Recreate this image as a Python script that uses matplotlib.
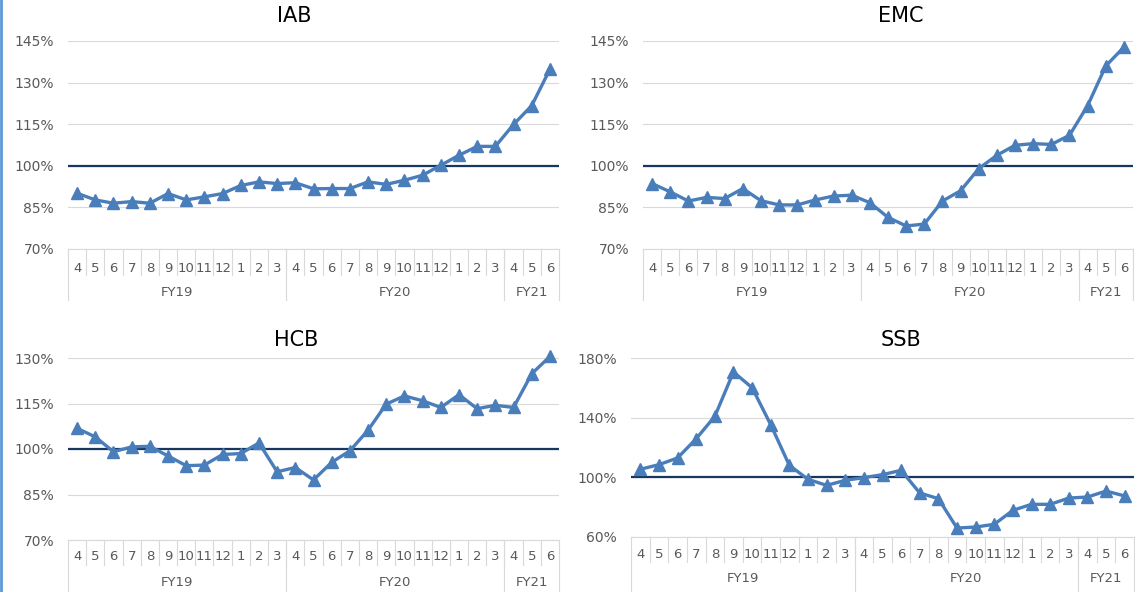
import numpy as np
import matplotlib.pyplot as plt
from matplotlib.lines import Line2D

plt.rcParams['font.family'] = ['DejaVu Sans']

months = [4, 5, 6, 7, 8, 9, 10, 11, 12, 1, 2, 3,
          4, 5, 6, 7, 8, 9, 10, 11, 12, 1, 2, 3,
          4, 5, 6]
fy_labels = ["FY19", "FY20", "FY21"]
fy_sizes = [12, 12, 3]

iab = [90.1, 87.7, 86.5, 87.1, 86.5, 90.0, 87.7, 88.8, 90.0, 92.9, 94.2, 93.6,
       93.9, 91.7, 91.8, 91.8, 94.2, 93.3, 94.8, 96.6, 100.2, 103.8, 107.0, 107.0,
       114.9, 121.7, 134.8]
emc = [93.6, 90.6, 87.3, 88.6, 88.2, 91.8, 87.4, 85.9, 85.9, 87.7, 89.1, 89.4,
       86.7, 81.4, 78.3, 79.0, 87.3, 91.0, 99.0, 103.8, 107.4, 108.0, 107.7, 111.0,
       121.7, 136.0, 142.8]
hcb = [106.8, 104.0, 99.1, 100.7, 100.9, 97.7, 94.5, 94.7, 98.2, 98.5, 102.0, 92.5,
       93.9, 89.8, 95.6, 99.4, 106.2, 114.8, 117.5, 115.9, 113.7, 117.9, 113.3, 114.4,
       113.7, 124.8, 130.5]
ssb = [105.4, 108.5, 113.0, 125.9, 140.9, 170.6, 160.1, 135.3, 108.0, 98.7, 94.6, 98.0,
       99.8, 101.8, 104.7, 89.5, 85.7, 66.0, 66.7, 68.5, 77.9, 81.9, 81.9, 86.1,
       86.8, 90.8, 87.5]

W, H = 1135, 592
BLUE = '#4a7ebb'
NAVY = '#17375e'
GRID = '#d9d9d9'
TXT = '#595959'

fig = plt.figure(figsize=(W / 100, H / 100), dpi=100)
fig.add_artist(Line2D([0.001, 0.001], [0, 1], color='#5b9bd5', lw=2))


def panel(box, values, ticks, title, title_x, title_y, row_px, full_px, lab_px, fy_px):
    left, top, right, bottom = box
    h_px = bottom - top
    ax = fig.add_axes([left / W, 1 - bottom / H, (right - left) / W, h_px / H])
    n = len(values)
    x = np.arange(n)

    ax.set_xlim(-0.5, n - 0.5)
    ax.set_ylim(ticks[0], ticks[-1])
    ax.set_yticks(ticks)
    ax.set_yticklabels([f"{t}%" for t in ticks])
    ax.tick_params(axis='y', length=0, pad=10, labelsize=10, labelcolor=TXT)
    ax.grid(axis='y', color=GRID, lw=0.8)
    ax.set_axisbelow(True)
    for s in ax.spines.values():
        s.set_visible(False)

    ax.axhline(100, color=NAVY, lw=1.6, zorder=2)
    ax.plot(x, values, color=BLUE, lw=2.4, marker='^', ms=9, clip_on=False, zorder=3)

    # two-level category axis
    tr = ax.get_xaxis_transform()
    ax.plot([-0.5, n - 0.5], [0, 0], transform=tr, color=GRID, lw=0.8, clip_on=False)
    bounds = list(np.cumsum([0] + fy_sizes) - 0.5)
    for i in range(1, n):
        ax.plot([i - 0.5, i - 0.5], [0, -row_px / h_px], transform=tr,
                color=GRID, lw=0.8, clip_on=False)
    for b in bounds:
        ax.plot([b, b], [0, -full_px / h_px], transform=tr,
                color=GRID, lw=0.8, clip_on=False)
    ax.set_xticks(x)
    ax.set_xticklabels([str(m) for m in months])
    ax.tick_params(axis='x', length=0, pad=lab_px * 0.72, labelsize=9.5, labelcolor=TXT)
    for lab in ax.get_xticklabels():
        lab.set_va('center')
    start = 0
    for name, size in zip(fy_labels, fy_sizes):
        ax.text(start + size / 2 - 0.5, -fy_px / h_px, name, transform=tr,
                ha='center', va='center', fontsize=9.5, color=TXT)
        start += size

    fig.text(title_x / W, 1 - title_y / H, title, ha='center', va='center',
             fontsize=15, color='black')
    return ax


panel((68, 41, 559, 249), iab, [70, 85, 100, 115, 130, 145], "IAB", 294, 16, 26, 51, 19, 44)
panel((643, 41, 1133, 249), emc, [70, 85, 100, 115, 130, 145], "EMC", 901, 16, 26, 51, 19, 44)
panel((68, 358, 559, 540), hcb, [70, 85, 100, 115, 130], "HCB", 296, 340, 25, 52, 17, 42)
panel((631, 358, 1134, 537), ssb, [60, 100, 140, 180], "SSB", 901, 340, 25, 55, 17, 42)

fig.savefig("out.png", dpi=100)
